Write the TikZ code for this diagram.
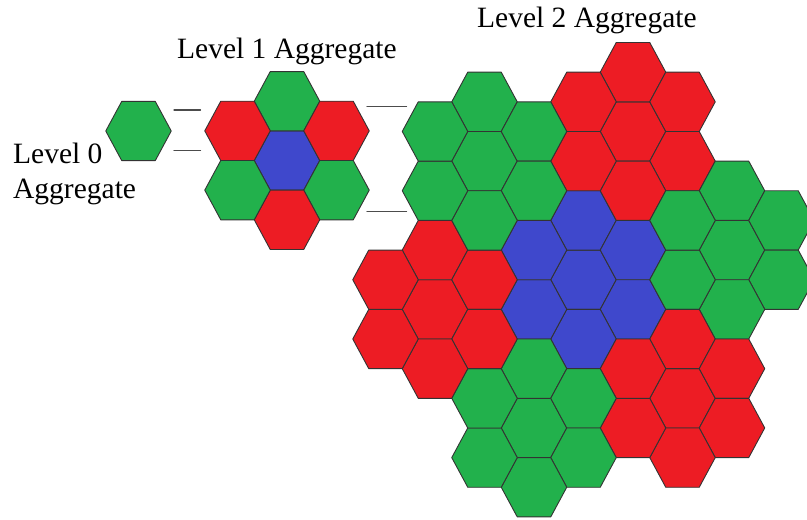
\documentclass[tikz,border=0pt]{standalone}
\usepackage{fontspec}
\setmainfont{Liberation Serif}
\definecolor{hexgreen}{RGB}{34,177,76}
\definecolor{hexred}{RGB}{237,28,36}
\definecolor{hexblue}{RGB}{63,72,204}
\tikzset{
	cell/.style={draw=black!80, line width=0.9pt, line join=round},
	zoomline/.style={draw=black!70, line width=1.3pt},
	aggtext/.style={font=\fontsize{29.5}{35}\selectfont, inner sep=0pt, anchor=base west},
	pics/hexcell/.style={code={
		\path[cell,fill=#1] (-32.75,0)--(-16.75,-29.65)--(16.75,-29.65)--(32.75,0)--(16.75,29.65)--(-16.75,29.65)--cycle;}}
}
\begin{document}
\begin{tikzpicture}[x=1pt, y=-1pt, line cap=round]
	\useasboundingbox (0,0) rectangle (807,520);
	\clip (0,0) rectangle (807,520);
	% level 0
	\pic at (138.5,131) {hexcell=hexgreen};
	\node[aggtext] (lvl0) at (13,163) {Level 0};
	\node[aggtext] (lvl0agg) at (13,198) {Aggregate};
	% level 1
	\foreach \q/\r/\col in {0/0/hexblue, 0/1/hexgreen, 1/0/hexred, 1/-1/hexgreen, 0/-1/hexred, -1/0/hexgreen, -1/1/hexred}
		\pic at ({287+49.5*\q}, {160.5-59.3*(\r+\q/2)}) {hexcell=\col};
	\node[aggtext] (lvl1) at (177,58) {Level 1 Aggregate};
	% level 2
	\foreach \Q/\R/\col in {0/0/hexblue, 1/2/hexred, 3/-1/hexgreen, 2/-3/hexred, -1/-2/hexgreen, -3/1/hexred, -2/3/hexgreen}
		\foreach \q/\r in {0/0, 0/1, 1/0, 1/-1, 0/-1, -1/0, -1/1}
			\pic at ({583.5+49.5*(\Q+\q)}, {279.7-59.3*((\R+\r)+(\Q+\q)/2)}) {hexcell=\col};
	\node[aggtext] (lvl2) at (477,27) {Level 2 Aggregate};
	% zoom lines
	\coordinate (za0) at (174,110);   \coordinate (za1) at (200.5,110);
	\coordinate (zb0) at (174,150.7); \coordinate (zb1) at (200.5,150.7);
	\coordinate (zc0) at (367,106.7); \coordinate (zc1) at (406.5,106.7);
	\coordinate (zd0) at (367,211.7); \coordinate (zd1) at (406.5,211.7);
	\draw[zoomline] (za0)--(za1) (zb0)--(zb1) (zc0)--(zc1) (zd0)--(zd1);
\end{tikzpicture}
\end{document}
